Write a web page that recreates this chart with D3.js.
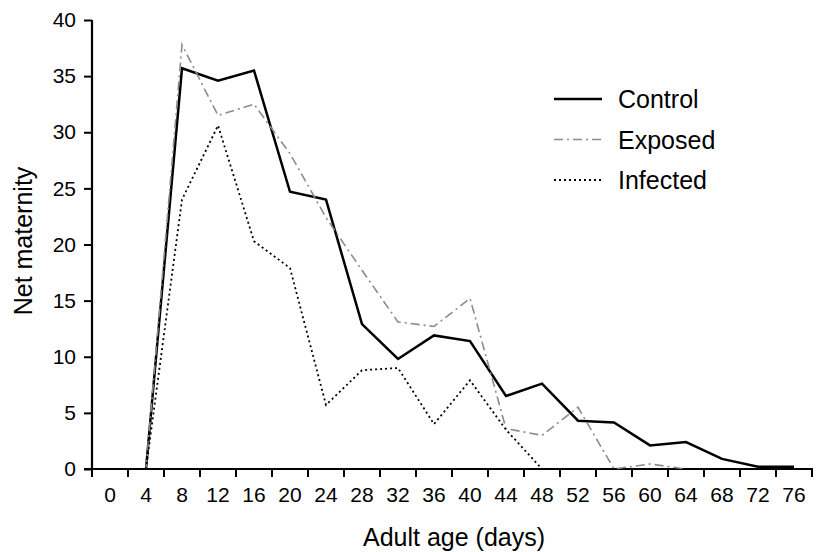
<!DOCTYPE html>
<html>
<head>
<meta charset="utf-8">
<script src="https://cdn.jsdelivr.net/npm/d3@7"></script>
<style>
  body { margin: 0; background: #fff; }
  text { font-family: "Liberation Sans", Arial, sans-serif; fill: #000; }
</style>
</head>
<body>
<svg id="chart" width="820" height="552"></svg>
<script>
// adult age categories (days)
var ages     = [0, 4, 8, 12, 16, 20, 24, 28, 32, 36, 40, 44, 48, 52, 56, 60, 64, 68, 72, 76]
var yTicks   = [0, 5, 10, 15, 20, 25, 30, 35, 40]

// net maternity (starting at day 4)
var control  = [0, 35.7, 34.6, 35.5, 24.7, 24.0, 12.9, 9.8, 11.9, 11.4, 6.5, 7.6, 4.3, 4.15, 2.1, 2.4, 0.9, 0.2, 0.2]
var exposed  = [0, 37.8, 31.5, 32.5, 28.1, 22.4, 17.7, 13.1, 12.7, 15.2, 3.6, 3.0, 5.5, 0, 0.45, 0]
var infected = [0, 24.0, 30.6, 20.3, 17.9, 5.7, 8.8, 9.0, 4.0, 7.9, 3.5, 0]

var series = [
  {name: "Control",  values: control,  color: "#000",    width: 2.5, dash: null},
  {name: "Exposed",  values: exposed,  color: "#8c8c8c", width: 1.6, dash: "9,4,2,4"},
  {name: "Infected", values: infected, color: "#000",    width: 1.8, dash: "2,3"}
]

var margin = {left: 92, right: 8, top: 20, bottom: 83}
var svg = d3.select("#chart")
var W = 820, H = 552

var x = d3.scaleBand().domain(ages).range([margin.left, 812]).padding(0)
var y = d3.scaleLinear().domain([0, 40]).range([H - margin.bottom, margin.top])

function cx(age) { return x(age) + x.bandwidth() / 2 }

// y axis
var yAxis = svg.append("g").attr("transform", "translate(" + margin.left + ",0)")
  .call(d3.axisLeft(y).tickValues(yTicks).tickSize(8).tickPadding(8))
yAxis.select(".domain").attr("stroke-width", 2.2).attr("d", "M0," + y(40) + "V" + y(0))
yAxis.selectAll(".tick line").attr("stroke-width", 2)
yAxis.selectAll(".tick text").attr("font-size", 21).attr("font-family", "Liberation Sans, Arial, sans-serif")

// x axis: labels centred in bands, ticks at band edges
var xAxis = svg.append("g").attr("transform", "translate(0," + y(0) + ")")
  .call(d3.axisBottom(x).tickSize(0).tickPadding(18))
xAxis.select(".domain").attr("stroke-width", 2.2).attr("d", "M84,0H813")
xAxis.selectAll(".tick text").attr("font-size", 21).attr("font-family", "Liberation Sans, Arial, sans-serif")
xAxis.selectAll(".edge").data(ages.concat(["end"])).enter()
  .append("line")
  .attr("class", "edge")
  .attr("x1", function(d) { return d == "end" ? x(ages[ages.length - 1]) + x.bandwidth() : x(d) })
  .attr("x2", function(d) { return d == "end" ? x(ages[ages.length - 1]) + x.bandwidth() : x(d) })
  .attr("y1", 0).attr("y2", 8)
  .attr("stroke", "#000").attr("stroke-width", 2)

// axis titles
svg.append("text")
  .attr("x", 454).attr("y", 546)
  .attr("text-anchor", "middle").attr("font-size", 25)
  .text("Adult age (days)")

svg.append("text")
  .attr("transform", "translate(32,241) rotate(-90)")
  .attr("text-anchor", "middle").attr("font-size", 25)
  .text("Net maternity")

// lines (each series starts at day 4)
var line = d3.line()
  .x(function(d, i) { return cx(ages[i + 1]) })
  .y(function(d) { return y(d) })

svg.selectAll(".series").data(series).enter()
  .append("path")
  .attr("class", "series")
  .attr("fill", "none")
  .attr("stroke", function(d) { return d.color })
  .attr("stroke-width", function(d) { return d.width })
  .attr("stroke-dasharray", function(d) { return d.dash })
  .attr("stroke-linejoin", "miter")
  .attr("d", function(d) { return line(d.values) })

// legend
var legend = svg.selectAll(".legend").data(series).enter()
  .append("g")
  .attr("class", "legend")
  .attr("transform", function(d, i) { return "translate(554," + (99 + i * 40.5) + ")" })

legend.append("line")
  .attr("x1", 0).attr("x2", 48)
  .attr("stroke", function(d) { return d.color })
  .attr("stroke-width", function(d) { return d.width })
  .attr("stroke-dasharray", function(d) { return d.dash })

legend.append("text")
  .attr("x", 64).attr("dy", "0.36em")
  .attr("font-size", 25)
  .text(function(d) { return d.name })
</script>
</body>
</html>
